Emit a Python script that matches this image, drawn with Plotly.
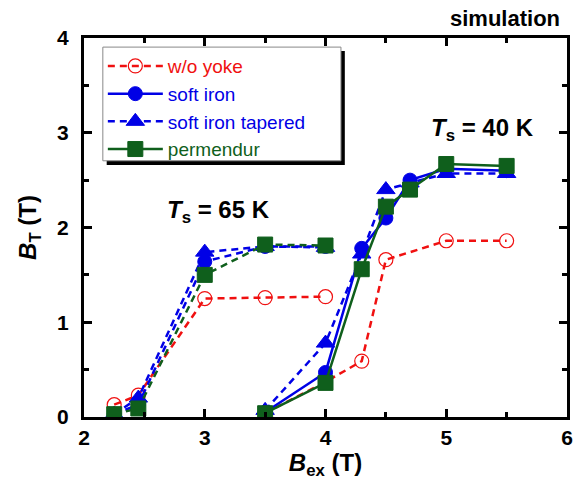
import plotly.graph_objects as go

# ---- data ----
x65 = [2.25, 2.45, 3.0, 3.5, 4.0]
x40 = [3.5, 4.0, 4.3, 4.5, 4.7, 5.0, 5.5]
x40_noyoke = [3.5, 4.0, 4.3, 4.5, 5.0, 5.5]

noyoke_65 = [0.13, 0.23, 1.25, 1.26, 1.27]
noyoke_40 = [0.04, 0.37, 0.59, 1.66, 1.86, 1.86]

softiron_65 = [0.03, 0.13, 1.64, 1.80, 1.80]
softiron_40 = [0.05, 0.47, 1.78, 2.10, 2.50, 2.62, 2.60]

tapered_65 = [0.03, 0.20, 1.74, 1.80, 1.79]
tapered_40 = [0.07, 0.78, 1.72, 2.40, 2.47, 2.57, 2.57]

permendur_65 = [0.03, 0.09, 1.50, 1.82, 1.81]
permendur_40 = [0.04, 0.36, 1.56, 2.22, 2.40, 2.67, 2.65]

series_names = ["w/o yoke", "soft iron", "soft iron tapered", "permendur"]

RED = "#f01010"
BLUE = "#0000e6"
GREEN = "#0f5f1c"
FONT = "Liberation Sans, Arial, sans-serif"
DASH = "7px,5px"

fig = go.Figure()

def add(name, xs65, ys65, xs40, ys40, color, symbol, size, dash40, open_=False):
    if open_:
        mk = dict(symbol="circle-open", size=size, color=color, line=dict(width=1.2))
    else:
        mk = dict(symbol=symbol, size=size, color=color, line=dict(color=color, width=1))
    label = '<span style="color:%s">%s</span>' % (color, name)
    fig.add_trace(go.Scatter(x=xs40, y=ys40, mode="lines+markers", name=label,
                             line=dict(color=color, width=2.5, dash=dash40),
                             marker=mk, showlegend=True, legendgroup=name))
    fig.add_trace(go.Scatter(x=xs65, y=ys65, mode="lines+markers", name=label,
                             line=dict(color=color, width=2.5, dash=DASH),
                             marker=mk, showlegend=False, legendgroup=name))

add(series_names[0], x65, noyoke_65, x40_noyoke, noyoke_40, RED, "circle-open", 14, DASH, open_=True)
add(series_names[1], x65, softiron_65, x40, softiron_40, BLUE, "circle", 14, "solid")
add(series_names[2], x65, tapered_65, x40, tapered_40, BLUE, "triangle-up", 16, DASH)
add(series_names[3], x65, permendur_65, x40, permendur_40, GREEN, "square", 15, "solid")

axis_common = dict(
    showline=True, linecolor="black", linewidth=3, mirror="ticks",
    ticks="inside", ticklen=8, tickwidth=3, tickcolor="black",
    showgrid=False, zeroline=False,
    tickfont=dict(family=FONT, size=21, color="black", weight="bold"),
    minor=dict(ticks="inside", ticklen=5, tickwidth=2.5, tickcolor="black"),
)

fig.update_xaxes(range=[2, 6], dtick=1, minor_dtick=0.5,
                 title=dict(text="<b><i>B</i><sub>ex</sub> (T)</b>", standoff=4,
                            font=dict(family=FONT, size=24, color="black")),
                 **axis_common)
fig.update_yaxes(range=[0, 4], dtick=1, minor_dtick=0.5, ticklabelstandoff=8,
                 title=dict(text="<b><i>B</i><sub>T</sub> (T)</b>", standoff=14,
                            font=dict(family=FONT, size=24, color="black")),
                 **axis_common)

fig.add_annotation(x=3.11, y=2.17, xref="x", yref="y", showarrow=False,
                   text="<b><i>T</i><sub>s</sub> = 65 K</b>",
                   font=dict(family=FONT, size=24, color="black"))
fig.add_annotation(x=5.3, y=3.03, xref="x", yref="y", showarrow=False,
                   text="<b><i>T</i><sub>s</sub> = 40 K</b>",
                   font=dict(family=FONT, size=24, color="black"))
fig.add_annotation(x=0.99, y=1.0, xref="paper", yref="paper", xanchor="right", yanchor="bottom",
                   yshift=5, showarrow=False, text="<b>simulation</b>",
                   font=dict(family=FONT, size=22, color="black"))

# legend frame: dark drop shadow, then white box with grey border
fig.add_shape(type="rect", xref="paper", yref="paper",
              x0=0.047, x1=0.540, y0=0.665, y1=0.966,
              fillcolor="black", line=dict(width=0), layer="above")
fig.add_shape(type="rect", xref="paper", yref="paper",
              x0=0.039, x1=0.532, y0=0.676, y1=0.976,
              fillcolor="white", line=dict(color="#888888", width=1), layer="above")

fig.update_layout(
    width=579, height=484,
    margin=dict(l=84, r=6, t=38, b=67),
    paper_bgcolor="white", plot_bgcolor="white",
    legend=dict(x=0.039, y=0.976, xanchor="left", yanchor="top",
                bgcolor="rgba(0,0,0,0)", borderwidth=0,
                font=dict(family=FONT, size=19), itemwidth=55,
                tracegroupgap=0),
)

fig.write_html("out.html")
